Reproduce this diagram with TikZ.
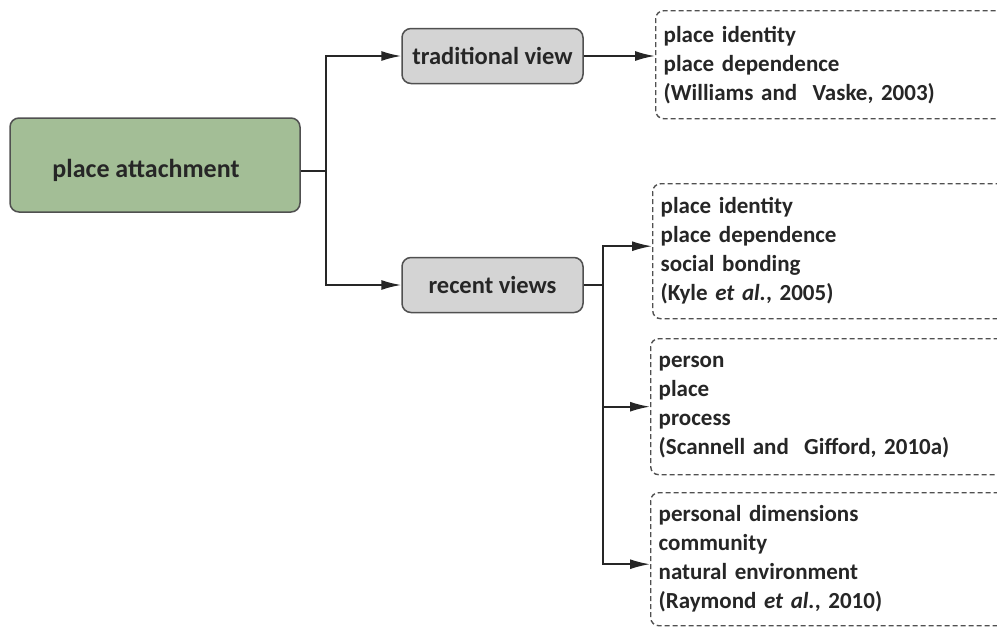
\documentclass[tikz,border=0pt]{standalone}
\usepackage{fontspec}
\setmainfont{Carlito}
\usetikzlibrary{arrows.meta}
\definecolor{pagreen}{RGB}{163,190,150}
\definecolor{vgray}{RGB}{212,212,212}
\definecolor{edge}{RGB}{80,80,80}
\tikzset{
  txt/.style={font=\fontsize{23pt}{29pt}\selectfont\bfseries, text=black!85},
  pabox/.style={draw=edge, line width=1.5pt, fill=pagreen, rounded corners=9pt},
  viewbox/.style={draw=edge, line width=1.5pt, fill=vgray, rounded corners=9pt,
    font=\fontsize{24.5pt}{29pt}\selectfont\bfseries, text=black!85},
  refbox/.style={draw=edge, line width=1.4pt, dash pattern=on 5pt off 3pt, rounded corners=8pt, txt,
    align=left, text width=340pt, inner xsep=8pt, anchor=north west},
  conn/.style={draw=black!85, line width=1.8pt},
  arr/.style={conn, -{Latex[length=20pt,width=10pt]}}
}
\begin{document}
\begin{tikzpicture}[x=1pt,y=1pt]
\clip (0,0) rectangle (997,-633);
\fill[white] (0,0) rectangle (997,-633);
% main box
\node[pabox, minimum width=290pt, minimum height=94pt] (pa) at (155,-165) {};
\node[txt, font=\fontsize{26pt}{29pt}\selectfont\bfseries] (pat) at (146,-170) {place attachment};
% views
\node[viewbox, minimum width=181pt, minimum height=55pt] (tv) at (492.5,-56) {traditional view};
\node[viewbox, minimum width=181pt, minimum height=55pt] (rv) at (492.5,-285) {recent views};
% reference boxes
\node[refbox, minimum height=108pt] (b1) at (655,-10) {place identity\\place dependence\\(Williams and\ \ Vaske, 2003)};
\node[refbox, minimum height=135pt] (b2) at (652,-183) {place identity\\place dependence\\social bonding\\(Kyle \textit{et al.}, 2005)};
\node[refbox, minimum height=136pt] (b3) at (650,-338) {person\\place\\process\\(Scannell and\ \ Gifford, 2010a)};
\node[refbox, minimum height=133pt] (b4) at (650,-492) {personal dimensions\\community\\natural environment\\(Raymond \textit{et al.}, 2010)};
% connectors
\coordinate (t) at (326,-171);
\draw[conn] (t -| pa.east) -- (t);
\draw[arr] (t) |- (tv.west);
\draw[arr] (t) |- (rv.west);
\draw[arr] (tv.east) -- (tv.east -| b1.west);
\coordinate (j) at (603,-285);
\draw[conn] (rv.east) -- (j);
\draw[arr] (j) |- ([yshift=5pt]b2.west);
\draw[arr] (j) |- (b3.west);
\draw[arr] (j) |- ([yshift=-5pt]b4.west);
\end{tikzpicture}
\end{document}
